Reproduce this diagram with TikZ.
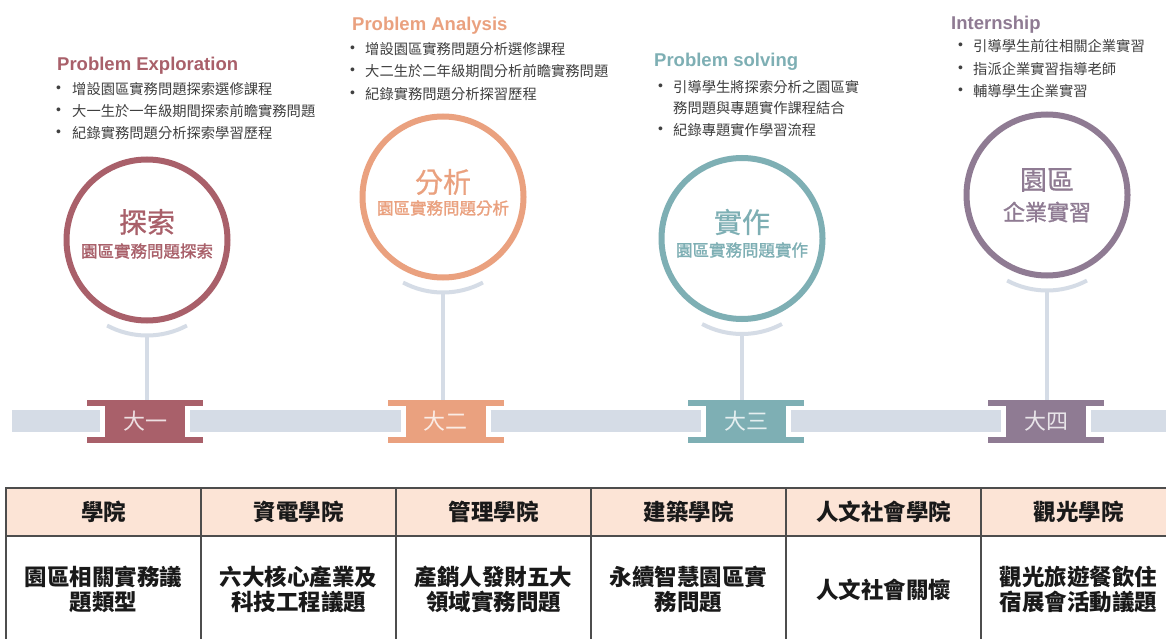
\documentclass[tikz,border=0pt]{standalone}
\usepackage{fontspec}
\setmainfont{Noto Sans CJK TC}
\newfontfamily\cjk{Noto Sans CJK TC}
\newfontfamily\cjkfb{Noto Sans CJK TC}[FakeBold=0.8]
\newfontfamily\cjksb{Noto Sans CJK TC}[FakeBold=1.4]
\newfontfamily\arial{Liberation Sans}
\usetikzlibrary{calc}
\definecolor{rose}{HTML}{A9606A}
\definecolor{salmon}{HTML}{EAA17F}
\definecolor{teal}{HTML}{7EAFB4}
\definecolor{mauve}{HTML}{8F7B93}
\definecolor{bargray}{HTML}{D5DCE6}
\definecolor{txtgray}{HTML}{404040}
\definecolor{hdrfill}{HTML}{FCE4D6}
\definecolor{tblline}{HTML}{4D4D4D}
\tikzset{
  ring/.style={circle, draw=#1, line width=6pt, minimum size=161pt, inner sep=0pt, fill=white},
  ctitle/.style={text=#1, font=\cjkfb\fontsize{28}{30}\selectfont, inner sep=0pt},
  csub/.style={text=#1, font=\cjksb\fontsize{16.5}{18}\selectfont, inner sep=0pt},
  ptitle/.style={text=#1, font=\arial\bfseries\fontsize{18.5}{20}\selectfont, anchor=base west, inner sep=0pt},
  bitem/.style={text=txtgray, font=\cjk\fontsize{14.3}{16}\selectfont, anchor=west, inner sep=0pt},
  bdot/.style={text=txtgray, font=\arial\fontsize{14}{16}\selectfont, anchor=west, inner sep=0pt},
  yearbox/.style={rectangle, fill=#1, minimum width=80pt, minimum height=43pt, inner sep=0pt, outer sep=0pt,
    text=white, text opacity=.8, font=\cjk\fontsize{22}{24}\selectfont},
  arcline/.style={draw=bargray, line width=4pt},
  stemline/.style={draw=bargray, line width=4pt},
  tbar/.style={draw=bargray, line width=22pt},
  hcell/.style={rectangle, draw=tblline, line width=1.5pt, fill=hdrfill, minimum width=195pt, minimum height=48pt,
    font=\cjk\bfseries\fontsize{22.5}{25}\selectfont, text=black!90, inner sep=0pt},
  bcell/.style={rectangle, draw=tblline, line width=1.5pt, fill=white, minimum width=195pt, minimum height=107pt,
    font=\cjk\bfseries\fontsize{22.5}{25}\selectfont, text=black!90, inner sep=0pt, align=center},
}
\begin{document}
\begin{tikzpicture}[x=1pt, y=-1pt]
\useasboundingbox (0,0) rectangle (1166,639);
\clip (0,0) rectangle (1166,639);
\fill[white] (0,0) rectangle (1166,639);

% year boxes
\node[yearbox=rose]   (y1) at (145,421)   {大一};
\node[yearbox=salmon] (y2) at (445.5,421) {大二};
\node[yearbox=teal]   (y3) at (746,421)   {大三};
\node[yearbox=mauve]  (y4) at (1046,421)  {大四};
\foreach \y/\c in {y1/rose, y2/salmon, y3/teal, y4/mauve}{
  \fill[\c] ($(\y.north west)+(-18,0)$) rectangle ($(\y.north east)+(18,6)$);
  \fill[\c] ($(\y.south west)+(-18,0)$) rectangle ($(\y.south east)+(18,-6)$);
}

% timeline bar
\coordinate (bs) at (12,421);
\coordinate (be) at (1175,421);
\draw[tbar] (bs) -- ([xshift=-5pt]y1.west);
\draw[tbar] ([xshift=5pt]y1.east) -- ([xshift=-5pt]y2.west);
\draw[tbar] ([xshift=5pt]y2.east) -- ([xshift=-5pt]y3.west);
\draw[tbar] ([xshift=5pt]y3.east) -- ([xshift=-5pt]y4.west);
\draw[tbar] ([xshift=5pt]y4.east) -- (be);

% circles
\node[ring=rose]   (c1) at (147,240)   {};
\node[ring=salmon] (c2) at (443,197)   {};
\node[ring=teal]   (c3) at (742,238.5) {};
\node[ring=mauve]  (c4) at (1047,195)  {};

\node[ctitle=rose]   (c1t) at (147,222) {探索};
\node[csub=rose]     (c1s) at (147,251) {園區實務問題探索};
\node[ctitle=salmon] (c2t) at (443,182) {分析};
\node[csub=salmon]   (c2s) at (443,208) {園區實務問題分析};
\node[ctitle=teal]   (c3t) at (742,222) {實作};
\node[csub=teal]     (c3s) at (742,250) {園區實務問題實作};
\node[ctitle=mauve, font=\cjkfb\fontsize{27}{29}\selectfont] (c4t) at (1047,180) {園區};
\node[csub=mauve, font=\cjksb\fontsize{22}{24}\selectfont] (c4s) at (1047,212) {企業實習};

% arcs and stems
\foreach \c/\y in {c1/y1, c2/y2, c3/y3, c4/y4}{
  \coordinate (a\c) at ($(\c.south)+(0,12)$);
  \coordinate (o\c) at ($(a\c)+(0,-85)$);
  \draw[arcline] ($(o\c)+(118:85)$) arc[start angle=118, end angle=62, radius=85];
  \draw[stemline] (a\c) -- (a\c |- \y.north);
}

% titles and bullets
\node[ptitle=rose]   (p1) at (57,70.5)  {Problem Exploration};
\node[ptitle=salmon] (p2) at (352,30.5) {Problem Analysis};
\node[ptitle=teal]   (p3) at (654,66.5) {Problem solving};
\node[ptitle=mauve]  (p4) at (951,29.5) {Internship};

\node[bdot] (p1d1) at (56,89)  {•};
\node[bitem] (p1i1) at (72,89)  {增設園區實務問題探索選修課程};
\node[bdot] (p1d2) at (56,111) {•};
\node[bitem] (p1i2) at (72,111) {大一生於一年級期間探索前瞻實務問題};
\node[bdot] (p1d3) at (56,133) {•};
\node[bitem] (p1i3) at (72,133) {紀錄實務問題分析探索學習歷程};

\node[bdot] (p2d1) at (350,49) {•};
\node[bitem] (p2i1) at (365,49) {增設園區實務問題分析選修課程};
\node[bdot] (p2d2) at (350,71) {•};
\node[bitem] (p2i2) at (365,71) {大二生於二年級期間分析前瞻實務問題};
\node[bdot] (p2d3) at (350,94) {•};
\node[bitem] (p2i3) at (365,94) {紀錄實務問題分析探習歷程};

\node[bdot] (p3d1) at (658,87) {•};
\node[bitem] (p3i1) at (673,87) {引導學生將探索分析之園區實};
\node[bitem] (p3i2) at (673,108) {務問題與專題實作課程結合};
\node[bdot] (p3d3) at (658,130) {•};
\node[bitem] (p3i3) at (673,130) {紀錄專題實作學習流程};

\node[bdot] (p4d1) at (958,46) {•};
\node[bitem] (p4i1) at (973,46) {引導學生前往相關企業實習};
\node[bdot] (p4d2) at (958,69) {•};
\node[bitem] (p4i2) at (973,69) {指派企業實習指導老師};
\node[bdot] (p4d3) at (958,91) {•};
\node[bitem] (p4i3) at (973,91) {輔導學生企業實習};

% table
\node[hcell] (h1) at (103.5,512) {學院};
\node[hcell] (h2) at (298.5,512) {資電學院};
\node[hcell] (h3) at (493.5,512) {管理學院};
\node[hcell] (h4) at (688.5,512) {建築學院};
\node[hcell] (h5) at (883.5,512) {人文社會學院};
\node[hcell] (h6) at (1078.5,512) {觀光學院};
\node[bcell] (b1) at (103.5,589.5) {園區相關實務議\\題類型};
\node[bcell] (b2) at (298.5,589.5) {六大核心產業及\\科技工程議題};
\node[bcell] (b3) at (493.5,589.5) {產銷人發財五大\\領域實務問題};
\node[bcell] (b4) at (688.5,589.5) {永續智慧園區實\\務問題};
\node[bcell] (b5) at (883.5,589.5) {人文社會關懷};
\node[bcell] (b6) at (1078.5,589.5) {觀光旅遊餐飲住\\宿展會活動議題};
\end{tikzpicture}
\end{document}
